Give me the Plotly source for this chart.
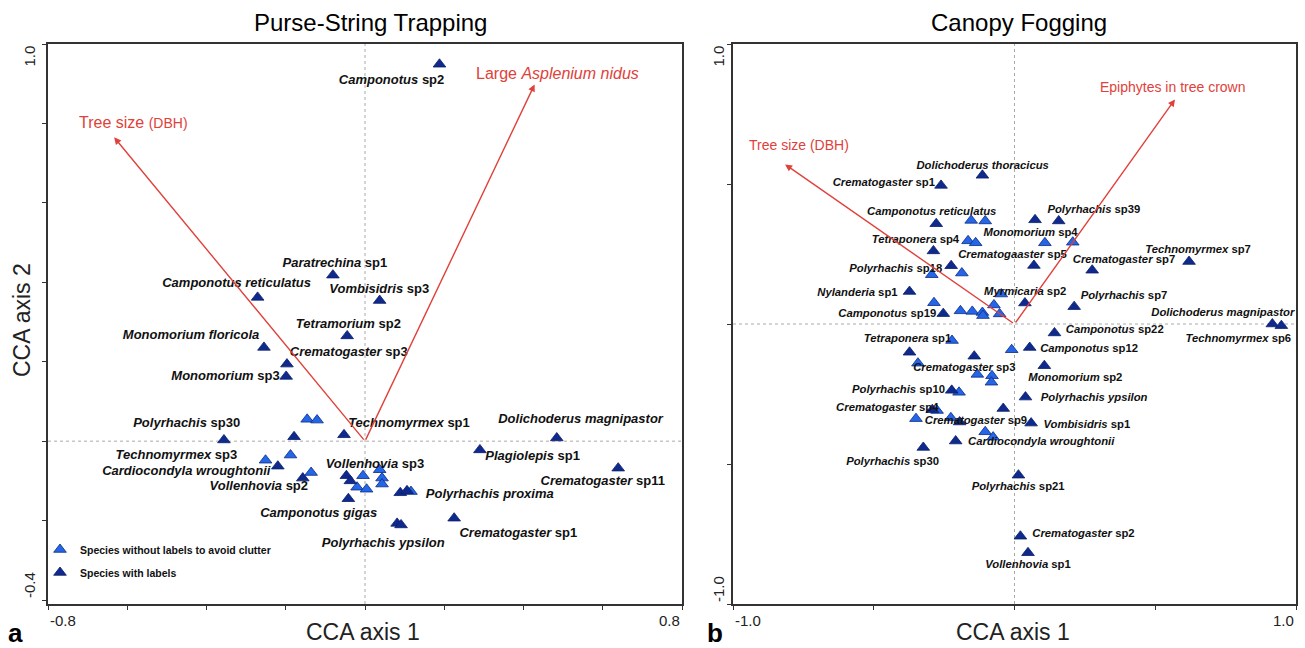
import plotly.graph_objects as go

# ---------------- Panel a: Purse-String Trapping ----------------
a_dark_x = [0.188, -0.081, -0.271, 0.037, -0.045, -0.255, -0.197, -0.199, -0.356, -0.179,
            -0.053, 0.484, 0.290, 0.639, -0.220, -0.157, -0.047, -0.037, -0.042, 0.089,
            0.106, 0.081, 0.091, 0.225]
a_dark_y = [0.949, 0.418, 0.362, 0.354, 0.265, 0.236, 0.194, 0.163, 0.003, 0.011,
            0.016, 0.008, -0.022, -0.068, -0.063, -0.093, -0.087, -0.100, -0.145, -0.130,
            -0.125, -0.207, -0.211, -0.194]
a_light_x = [-0.146, -0.121, -0.251, -0.188, -0.136, -0.005, -0.020, 0.004, 0.037, 0.043, 0.043, 0.116]
a_light_y = [0.055, 0.053, -0.048, -0.035, -0.079, -0.087, -0.116, -0.121, -0.072, -0.093, -0.108, -0.127]

a_lab_ital = ["Camponotus", "Paratrechina", "Camponotus reticulatus", "Vombisidris", "Tetramorium",
              "Monomorium floricola", "Crematogaster", "Monomorium", "Polyrhachis", "Technomyrmex",
              "Dolichoderus magnipastor", "Technomyrmex", "Cardiocondyla wroughtonii", "Vollenhovia",
              "Vollenhovia", "Plagiolepis", "Crematogaster", "Polyrhachis proxima", "Camponotus gigas",
              "Crematogaster", "Polyrhachis ypsilon"]
a_lab_suf = ["sp2", "sp1", "", "sp3", "sp2", "", "sp3", "sp3", "sp30", "sp1", "", "sp3", "", "sp2",
             "sp3", "sp1", "sp11", "", "", "sp1", ""]
a_lab_x = [0.067, -0.076, -0.324, 0.036, -0.042, -0.439, -0.041, -0.352, -0.450, 0.111, 0.544,
           -0.476, -0.451, -0.268, 0.025, 0.423, 0.600, 0.315, -0.117, 0.387, 0.046]
a_lab_y = [0.908, 0.446, 0.396, 0.381, 0.293, 0.265, 0.223, 0.162, 0.045, 0.045, 0.055,
           -0.036, -0.077, -0.114, -0.060, -0.039, -0.102, -0.135, -0.184, -0.233, -0.258]

a_env_names = ["Tree size <span style='font-size:14px'>(DBH)</span>", "Large <i>Asplenium nidus</i>"]
a_env_x = [-0.633, 0.428]
a_env_y = [0.765, 0.898]
a_env_lab_x = [-0.583, 0.485]
a_env_lab_y = [0.802, 0.926]

# ---------------- Panel b: Canopy Fogging ----------------
b_dark_x = [-0.114, -0.261, -0.278, 0.073, 0.157, -0.288, 0.069, 0.276, 0.620, -0.225,
            -0.373, 0.037, 0.212, -0.253, 0.916, 0.948, 0.142, -0.373, -0.143, 0.054,
            0.106, -0.223, 0.039, -0.292, -0.040, -0.195, 0.059, -0.209, -0.324, 0.014,
            0.021, 0.048]
b_dark_y = [0.531, 0.495, 0.358, 0.372, 0.368, 0.261, 0.209, 0.192, 0.223, 0.208,
            0.116, 0.075, 0.062, 0.037, 0.000, -0.006, -0.032, -0.101, -0.115, -0.084,
            -0.149, -0.237, -0.261, -0.306, -0.302, -0.350, -0.354, -0.418, -0.441, -0.540,
            -0.758, -0.817]
b_light_x = [-0.154, -0.104, -0.165, -0.138, 0.108, 0.207, -0.187, -0.294, -0.047, -0.286,
             -0.073, -0.192, -0.150, -0.114, -0.112, -0.053, -0.222, -0.343, -0.010, -0.132,
             -0.080, -0.082, -0.197, -0.275, -0.350, -0.226, -0.104, -0.076]
b_light_y = [0.370, 0.368, 0.297, 0.290, 0.290, 0.292, 0.182, 0.176, 0.107, 0.076,
             0.068, 0.047, 0.045, 0.041, 0.030, 0.036, -0.059, -0.140, -0.092, -0.180,
             -0.185, -0.208, -0.244, -0.309, -0.338, -0.335, -0.385, -0.404]

b_lab_ital = ["Dolichoderus thoracicus", "Crematogaster", "Camponotus reticulatus", "Polyrhachis",
              "Monomorium", "Tetraponera", "Crematogaaster", "Crematogaster", "Technomyrmex",
              "Polyrhachis", "Nylanderia", "Myrmicaria", "Polyrhachis", "Camponotus",
              "Dolichoderus magnipastor", "Technomyrmex", "Camponotus", "Tetraponera", "Camponotus",
              "Crematogaster", "Monomorium", "Polyrhachis", "Polyrhachis ypsilon", "Crematogaster",
              "Crematogaster", "Vombisidris", "Cardiocondyla wroughtonii", "Polyrhachis",
              "Polyrhachis", "Crematogaster", "Vollenhovia"]
b_lab_suf = ["", "sp1", "", "sp39", "sp4", "sp4", "sp5", "sp7", "sp7", "sp18", "sp1", "sp2", "sp7",
             "sp19", "", "sp6", "sp22", "sp1", "sp12", "sp3", "sp2", "sp10", "", "sp4", "sp9", "sp1",
             "", "sp30", "sp21", "sp2", "sp1"]
b_lab_x = [-0.113, -0.464, -0.294, 0.282, 0.057, -0.352, -0.007, 0.389, 0.652, -0.422, -0.558,
           0.038, 0.389, -0.452, 0.740, 0.795, 0.356, -0.380, 0.265, -0.178, 0.216, -0.412, 0.283,
           -0.452, -0.137, 0.257, 0.095, -0.433, 0.013, 0.245, 0.048]
b_lab_y = [0.565, 0.504, 0.400, 0.408, 0.324, 0.299, 0.244, 0.228, 0.264, 0.195, 0.109,
           0.112, 0.098, 0.034, 0.037, -0.056, -0.021, -0.056, -0.089, -0.157, -0.192, -0.235,
           -0.264, -0.301, -0.348, -0.360, -0.423, -0.495, -0.582, -0.752, -0.861]

b_env_names = ["Tree size (DBH)", "Epiphytes in tree crown"]
b_env_x = [-0.815, 0.570]
b_env_y = [0.570, 0.802]
b_env_lab_x = [-0.765, 0.564]
b_env_lab_y = [0.639, 0.845]

# ---------------- styling ----------------
W, H = 1305, 648
FONT = "Arial, Liberation Sans, sans-serif"
DARK = "#0f2a8c"
LIGHT = "#2566e8"
RED = "#e0413a"
FRAME = "#333333"


def lab(it, suf):
    return f"<b><i>{it}</i> {suf}</b>" if suf else f"<b><i>{it}</i></b>"


def px(v, total):
    return v / total


fig = go.Figure()

fig.add_trace(go.Scatter(x=a_light_x, y=a_light_y, mode="markers", xaxis="x", yaxis="y",
                         name="Species without labels to avoid clutter", legendgroup="g1",
                         marker=dict(symbol="triangle-up", size=11, color=LIGHT,
                                     line=dict(color="#0a2a80", width=0.8))))
fig.add_trace(go.Scatter(x=a_dark_x, y=a_dark_y, mode="markers", xaxis="x", yaxis="y",
                         name="Species with labels", legendgroup="g2",
                         marker=dict(symbol="triangle-up", size=11, color=DARK,
                                     line=dict(color="#0a1f6b", width=0.8))))
fig.add_trace(go.Scatter(x=a_lab_x, y=a_lab_y, mode="text", xaxis="x", yaxis="y", showlegend=False,
                         text=[lab(i, s) for i, s in zip(a_lab_ital, a_lab_suf)],
                         textposition="middle center", hoverinfo="skip",
                         textfont=dict(family=FONT, size=13, color="#111")))

fig.add_trace(go.Scatter(x=b_light_x, y=b_light_y, mode="markers", xaxis="x2", yaxis="y2",
                         showlegend=False,
                         marker=dict(symbol="triangle-up", size=11, color=LIGHT,
                                     line=dict(color="#0a2a80", width=0.8))))
fig.add_trace(go.Scatter(x=b_dark_x, y=b_dark_y, mode="markers", xaxis="x2", yaxis="y2",
                         showlegend=False,
                         marker=dict(symbol="triangle-up", size=11, color=DARK,
                                     line=dict(color="#0a1f6b", width=0.8))))
fig.add_trace(go.Scatter(x=b_lab_x, y=b_lab_y, mode="text", xaxis="x2", yaxis="y2", showlegend=False,
                         text=[lab(i, s) for i, s in zip(b_lab_ital, b_lab_suf)],
                         textposition="middle center", hoverinfo="skip",
                         textfont=dict(family=FONT, size=11.3, color="#111")))

xa_dom = [px(48, W), px(682, W)]
xb_dom = [px(733, W), px(1296, W)]
y_dom = [1 - px(604, H), 1 - px(44, H)]

axis_common = dict(showline=True, mirror=True, linecolor=FRAME, linewidth=1.5, ticks="outside",
                   ticklen=4, tickcolor=FRAME, tickwidth=1, showticklabels=False, showgrid=False,
                   zeroline=False)

fig.update_layout(
    width=W, height=H, autosize=False,
    margin=dict(l=0, r=0, t=0, b=0),
    paper_bgcolor="white", plot_bgcolor="white",
    font=dict(family=FONT, color="#111"),
    xaxis=dict(domain=xa_dom, range=[-0.8, 0.8], dtick=0.2, tick0=-0.8, anchor="y", **axis_common),
    yaxis=dict(domain=y_dom, range=[-0.41, 1.0], dtick=0.2, tick0=0, anchor="x", **axis_common),
    xaxis2=dict(domain=xb_dom, range=[-1.0, 1.0], dtick=0.5, tick0=-1, anchor="y2", **axis_common),
    yaxis2=dict(domain=y_dom, range=[-1.0, 1.0], dtick=0.5, tick0=-1, anchor="x2", **axis_common),
    showlegend=True,
    legend=dict(x=px(40, W), y=1 - px(535, H), xanchor="left", yanchor="top",
                bgcolor="rgba(0,0,0,0)", tracegroupgap=4,
                font=dict(family=FONT, size=10.5, color="#111", weight="bold"),
                itemsizing="trace"),
)

shapes = []
for xr, yr in (("x", "y"), ("x2", "y2")):
    shapes.append(dict(type="line", xref=xr, yref=f"{yr} domain", x0=0, x1=0, y0=0, y1=1,
                       line=dict(color="#aaaaaa", width=1, dash="dot"), layer="below"))
    shapes.append(dict(type="line", xref=f"{xr} domain", yref=yr, x0=0, x1=1, y0=0, y1=0,
                       line=dict(color="#aaaaaa", width=1, dash="dot"), layer="below"))
fig.update_layout(shapes=shapes)

ann = []
for xr, yr, ex, ey, lx, ly, names, fs in (
        ("x", "y", a_env_x, a_env_y, a_env_lab_x, a_env_lab_y, a_env_names, 16),
        ("x2", "y2", b_env_x, b_env_y, b_env_lab_x, b_env_lab_y, b_env_names, 14)):
    for i in range(len(ex)):
        ann.append(dict(x=ex[i], y=ey[i], ax=0, ay=0, xref=xr, yref=yr, axref=xr, ayref=yr,
                        text="", showarrow=True, arrowhead=2, arrowsize=1, arrowwidth=1.4,
                        arrowcolor=RED))
        ann.append(dict(x=lx[i], y=ly[i], xref=xr, yref=yr, text=names[i], showarrow=False,
                        xanchor="center", yanchor="middle",
                        font=dict(family=FONT, size=fs, color=RED)))


def pann(cx, cy, text, size, color="#222", angle=0, xanchor="center", yanchor="middle"):
    return dict(x=px(cx, W), y=1 - px(cy, H), xref="paper", yref="paper", text=text,
                textangle=angle, xanchor=xanchor, yanchor=yanchor, showarrow=False,
                font=dict(family=FONT, size=size, color=color))


ann.append(pann(370, 22, "Purse-String Trapping", 24, "#000"))
ann.append(pann(1019, 22, "Canopy Fogging", 24, "#000"))
ann.append(pann(363, 632, "CCA axis 1", 23))
ann.append(pann(1013, 632, "CCA axis 1", 23))
ann.append(pann(22, 320, "CCA axis 2", 23, angle=-90))
ann.append(pann(15, 633, "<b>a</b>", 26, "#000"))
ann.append(pann(715, 633, "<b>b</b>", 26, "#000"))

tick_font = dict(family=FONT, size=15, color="#222")
ann += [
    dict(x=-0.8, y=1 - px(620, H), xref="x", yref="paper", text="-0.8", xanchor="left",
         yanchor="middle", showarrow=False, font=tick_font),
    dict(x=0.8, y=1 - px(620, H), xref="x", yref="paper", text="0.8", xanchor="right",
         yanchor="middle", showarrow=False, font=tick_font),
    dict(x=-1.0, y=1 - px(620, H), xref="x2", yref="paper", text="-1.0", xanchor="left",
         yanchor="middle", showarrow=False, font=tick_font),
    dict(x=1.0, y=1 - px(620, H), xref="x2", yref="paper", text="1.0", xanchor="right",
         yanchor="middle", showarrow=False, font=tick_font),
    dict(x=px(29, W), y=1.0, xref="paper", yref="y", text="1.0", textangle=-90, yanchor="top",
         xanchor="center", showarrow=False, font=tick_font),
    dict(x=px(29, W), y=-0.4, xref="paper", yref="y", text="-0.4", textangle=-90, yanchor="bottom",
         xanchor="center", showarrow=False, font=tick_font),
    dict(x=px(718, W), y=1.0, xref="paper", yref="y2", text="1.0", textangle=-90, yanchor="top",
         xanchor="center", showarrow=False, font=tick_font),
    dict(x=px(718, W), y=-1.0, xref="paper", yref="y2", text="-1.0", textangle=-90, yanchor="bottom",
         xanchor="center", showarrow=False, font=tick_font),
]
fig.update_layout(annotations=ann)

fig.write_html("out.html", config={"displayModeBar": False},
               post_script="document.body.style.margin='0';document.body.style.overflow='hidden';")
